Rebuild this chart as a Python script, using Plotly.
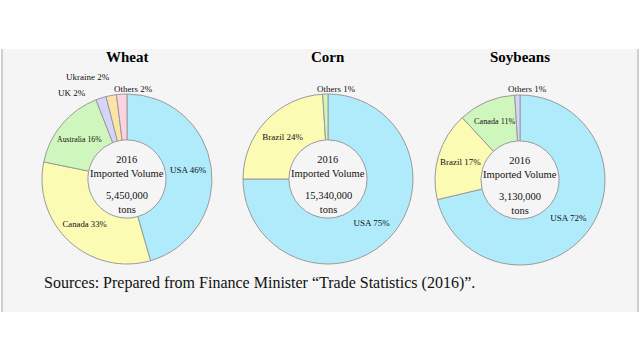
import plotly.graph_objects as go

W, H = 640, 360

titles = ["Wheat", "Corn", "Soybeans"]
volumes = ["5,450,000", "15,340,000", "3,130,000"]

wheat_labels = ["USA", "Canada", "Australia", "UK", "Ukraine", "Others"]
wheat_values = [46, 33, 16, 2, 2, 2]
wheat_colors = ["#b0ebfc", "#fbfbb4", "#cff7bd", "#d5d5fb", "#fce3a8", "#fcd3de"]

corn_labels = ["USA", "Brazil", "Others"]
corn_values = [75, 24, 1]
corn_colors = ["#b0ebfc", "#fbfbb4", "#cff7bd"]

soy_labels = ["USA", "Brazil", "Canada", "Others"]
soy_values = [72, 17, 11, 1]
soy_colors = ["#b0ebfc", "#fbfbb4", "#cff7bd", "#d5d5fb"]

source_text = "Sources: Prepared from Finance Minister \u201cTrade Statistics (2016)\u201d."

# layout (pixels): pie centres, radius, and offsets of the small outside labels
centers = [(127, 179), (328, 179), (520, 180)]
R = 85
outside_offsets = [
    {"UK": (-55, -86), "Ukraine": (-39, -102), "Others": (6, -90)},
    {"Others": (8, -90)},
    {"Others": (7, -91)},
]
SERIF = "Liberation Serif, Times New Roman, serif"

fig = go.Figure()

datasets = [
    (wheat_labels, wheat_values, wheat_colors),
    (corn_labels, corn_values, corn_colors),
    (soy_labels, soy_values, soy_colors),
]

annotations = []

for (labels, values, colors), (cx, cy), offs in zip(datasets, centers, outside_offsets):
    texts = [f"{l} {v}%" for l, v in zip(labels, values)]
    positions = ["none" if l in offs else "inside" for l in labels]
    fig.add_trace(go.Pie(
        labels=labels, values=values, text=texts, textinfo="text",
        textposition=positions, insidetextorientation="horizontal",
        sort=False, direction="clockwise", rotation=0, hole=0.46,
        marker=dict(colors=colors, line=dict(color="#9a9a9a", width=1)),
        textfont=dict(family=SERIF, size=9, color="#111111"),
        domain=dict(x=[(cx - R) / W, (cx + R) / W],
                    y=[(H - cy - R) / H, (H - cy + R) / H]),
        showlegend=False, hoverinfo="label+percent",
    ))
    for l, t in zip(labels, texts):
        if l in offs:
            dx, dy = offs[l]
            annotations.append(dict(
                x=(cx + dx) / W, y=(H - cy - dy) / H, xref="paper", yref="paper",
                xanchor="center", yanchor="middle", text=t, showarrow=False,
                font=dict(family=SERIF, size=9, color="#111111"),
            ))

for t, vol, (cx, cy) in zip(titles, volumes, centers):
    annotations.append(dict(
        x=cx / W, y=(H - 57) / H, xref="paper", yref="paper",
        xanchor="center", yanchor="middle",
        text=f"<b>{t}</b>", showarrow=False,
        font=dict(family=SERIF, size=15, color="#000000"),
    ))
    annotations.append(dict(
        x=cx / W, y=(H - cy + 12.5) / H, xref="paper", yref="paper",
        xanchor="center", yanchor="middle",
        text="2016<br>Imported Volume",
        showarrow=False, align="center",
        font=dict(family=SERIF, size=10.5, color="#111111"),
    ))
    annotations.append(dict(
        x=cx / W, y=(H - cy - 23) / H, xref="paper", yref="paper",
        xanchor="center", yanchor="middle",
        text=f"{vol}<br>tons",
        showarrow=False, align="center",
        font=dict(family=SERIF, size=10.5, color="#111111"),
    ))

annotations.append(dict(
    x=42 / W, y=(H - 283) / H, xref="paper", yref="paper",
    xanchor="left", yanchor="middle",
    text=source_text, showarrow=False,
    font=dict(family=SERIF, size=16, color="#111111"),
))

shapes = [
    dict(type="rect", xref="paper", yref="paper", x0=1 / W, x1=639 / W,
         y0=(H - 312) / H, y1=(H - 49) / H, fillcolor="#f5f5f5",
         line=dict(width=0), layer="below"),
    dict(type="line", xref="paper", yref="paper", x0=2 / W, x1=2 / W,
         y0=(H - 312) / H, y1=(H - 49) / H, line=dict(color="#cfcfcf", width=2)),
    dict(type="line", xref="paper", yref="paper", x0=638 / W, x1=638 / W,
         y0=(H - 312) / H, y1=(H - 49) / H, line=dict(color="#cfcfcf", width=2)),
]

fig.update_layout(
    width=W, height=H, margin=dict(l=0, r=0, t=0, b=0),
    paper_bgcolor="#ffffff", plot_bgcolor="#ffffff",
    annotations=annotations, shapes=shapes,
)

fig.write_html(
    "out.html",
    config={"displayModeBar": False},
    post_script="document.body.style.margin='0';document.body.style.overflow='hidden';",
)
